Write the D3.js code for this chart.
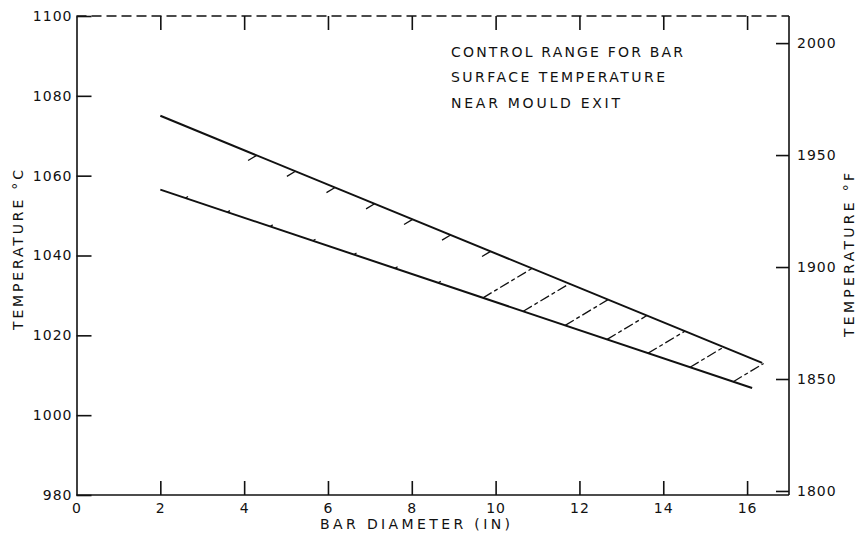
<!DOCTYPE html>
<html>
<head>
<meta charset="utf-8">
<script src="https://cdn.jsdelivr.net/npm/d3@7"></script>
<style>
  html, body { margin: 0; padding: 0; background: #fff; }
  svg { display: block; }
  text { font-family: "DejaVu Sans", sans-serif; fill: #111; }
  .axis path, .axis line { stroke: #111; stroke-width: 1.6; }
  .axis text { font-family: "DejaVu Sans", sans-serif; font-size: 14px; letter-spacing: 1px; }
</style>
</head>
<body>
<svg id="chart" width="857" height="541"></svg>
<script>
// Bar diameter (in) vs. surface temperature near mould exit
const xTicks = [0, 2, 4, 6, 8, 10, 12, 14, 16];
const yTicksC = [980, 1000, 1020, 1040, 1060, 1080, 1100];
const yTicksF = [1800, 1850, 1900, 1950, 2000];

// upper and lower limits of the control range
const upperX = [2.0, 16.36];
const upperC = [1075, 1013.1];
const lowerX = [2.0, 16.12];
const lowerC = [1056.5, 1006.8];

// where each hatch line leaves the lower limit
const hatchX = [2.6, 3.6, 4.62, 5.64, 6.62, 7.6, 8.63, 9.7, 10.66, 11.66, 12.66, 13.64, 14.64, 15.67];

const noteLines = ['CONTROL RANGE FOR BAR', 'SURFACE TEMPERATURE', 'NEAR MOULD EXIT'];

(function () {
  const svg = d3.select('#chart');

  const plot = { left: 76.5, right: 789, top: 16, bottom: 495 };

  const x = d3.scaleLinear().domain([0, 17]).range([plot.left, plot.right]);
  const y = d3.scaleLinear().domain([980, 1100]).range([plot.bottom, plot.top]);
  const yF = d3.scaleLinear().domain([1798.2, 2012.1]).range([plot.bottom, plot.top]);
  const fmt = d3.format('d');

  // axes
  const xAxis = svg.append('g')
    .attr('class', 'axis')
    .attr('transform', `translate(0,${plot.bottom})`)
    .call(d3.axisBottom(x).tickValues(xTicks).tickFormat(fmt).tickSizeInner(-14).tickSizeOuter(0).tickPadding(8));
  xAxis.selectAll('.tick').filter((d) => d === 0).select('line').remove();
  xAxis.select('.domain').attr('d', `M${plot.left},0H${plot.right}`);

  svg.append('g')
    .attr('class', 'axis')
    .attr('transform', `translate(0,${plot.top})`)
    .call(d3.axisTop(x).tickValues(xTicks.filter((d) => d > 0)).tickSizeInner(-14).tickSizeOuter(0).tickFormat(''))
    .call((g) => g.select('.domain').attr('d', `M${plot.left},0H${plot.right}`).attr('stroke-dasharray', '10,5'));

  svg.append('g')
    .attr('class', 'axis')
    .attr('transform', `translate(${plot.left},0)`)
    .call(d3.axisLeft(y).tickValues(yTicksC).tickFormat(fmt).tickSizeInner(-15).tickSizeOuter(0).tickPadding(4));

  svg.append('g')
    .attr('class', 'axis')
    .attr('transform', `translate(${plot.right},0)`)
    .call(d3.axisRight(yF).tickValues(yTicksF).tickFormat(fmt).tickSizeInner(-13).tickSizeOuter(0).tickPadding(8))
    .call((g) => g.select('.domain').attr('d', `M0,${plot.top}V${plot.bottom}`));

  // limit lines
  const line = d3.line().x((d) => x(d[0])).y((d) => y(d[1]));
  const upper = d3.zip(upperX, upperC);
  const lower = d3.zip(lowerX, lowerC);

  [upper, lower].forEach((pts) => {
    svg.append('path')
      .attr('d', line(pts))
      .attr('fill', 'none')
      .attr('stroke', '#111')
      .attr('stroke-width', 2);
  });

  // hatching between the limits, drawn at a fixed slant
  const slant = -0.6;
  const bu = (y(upperC[1]) - y(upperC[0])) / (x(upperX[1]) - x(upperX[0]));
  const au = y(upperC[0]) - bu * x(upperX[0]);
  const lowerAt = d3.scaleLinear().domain(lowerX).range(lowerC);

  hatchX.forEach((hx) => {
    const px0 = x(hx), py0 = y(lowerAt(hx));
    const px1 = (py0 - slant * px0 - au) / (bu - slant);
    const py1 = au + bu * px1;
    const len = Math.hypot(px1 - px0, py1 - py0);
    // the left hatches survive only as short stubs in the original
    const dash = hx < 9.5 ? `3,${(len - 13).toFixed(1)},10,0` : '10,3,4,3';
    svg.append('line')
      .attr('x1', px0).attr('y1', py0)
      .attr('x2', px1).attr('y2', py1)
      .attr('stroke', '#111')
      .attr('stroke-width', 1.3)
      .attr('stroke-dasharray', dash);
  });

  // annotation
  const widths = [232, 214, 169];
  noteLines.forEach((t, i) => {
    svg.append('text')
      .attr('x', 451)
      .attr('y', 57 + i * 25.3)
      .attr('font-size', 14)
      .attr('textLength', widths[i])
      .attr('lengthAdjust', 'spacing')
      .text(t);
  });

  // axis titles
  svg.append('text')
    .attr('x', 320)
    .attr('y', 529)
    .attr('font-size', 14)
    .attr('textLength', 190)
    .attr('lengthAdjust', 'spacing')
    .text('BAR DIAMETER  (IN)');

  svg.append('text')
    .attr('transform', 'translate(23,330) rotate(-90)')
    .attr('font-size', 14)
    .attr('textLength', 160)
    .attr('lengthAdjust', 'spacing')
    .text('TEMPERATURE  °C');

  svg.append('text')
    .attr('transform', 'translate(854,337) rotate(-90)')
    .attr('font-size', 14)
    .attr('textLength', 164)
    .attr('lengthAdjust', 'spacing')
    .text('TEMPERATURE  °F');
})();
</script>
</body>
</html>
